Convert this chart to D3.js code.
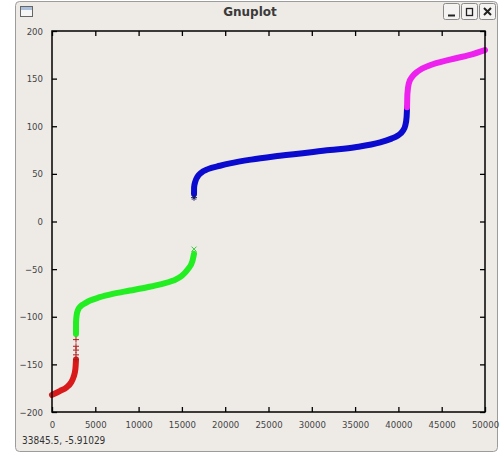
<!DOCTYPE html>
<html>
<head>
<meta charset="utf-8">
<script src="https://cdn.jsdelivr.net/npm/d3@7"></script>
<style>
  body { margin: 0; background: #fff; }
  text { font-family: "DejaVu Sans Condensed", "DejaVu Sans", sans-serif; }
</style>
</head>
<body>
<script>
const width = 504;
const height = 454;

// values, [x, y]
const red = [[0, -182], [900, -178], [1700, -174], [2200, -169], [2500, -163], [2700, -155], [2755, -148], [2770, -145]];
const redPlus = [-124, -131, -135, -140, -145];
const green = [[2770, -118], [2775, -106], [2850, -98], [3000, -93], [3300, -89], [3800, -86], [4400, -83], [5500, -79.5],
  [7000, -76], [9000, -72.5], [11000, -69], [12500, -66], [14000, -62], [15000, -57], [15700, -50], [16200, -42], [16400, -34]];
const greenX = [[16400, -29]];
const blue = [[16400, 29], [16410, 36], [16550, 42], [16800, 47], [17200, 51], [18000, 55], [19400, 58.5], [20550, 61],
  [23000, 65], [26300, 69], [32100, 75], [35000, 78], [37900, 83], [39200, 87], [39900, 90], [40500, 95],
  [40800, 101], [40950, 110], [41000, 120]];
const blueStar = [[16400, 25]];
const magenta = [[41000, 120], [41040, 134], [41200, 145], [41600, 152], [42300, 158], [43650, 164],
  [45960, 170], [48270, 175], [50000, 180]];

const xTicks = [0, 5000, 10000, 15000, 20000, 25000, 30000, 35000, 40000, 45000, 50000];
const yTicks = [-200, -150, -100, -50, 0, 50, 100, 150, 200];

const svg = d3.select('body')
  .append('svg')
  .attr('width', width)
  .attr('height', height);

// window frame
svg.append('rect')
  .attr('x', 15.5).attr('y', 1.5)
  .attr('width', 482).attr('height', 450)
  .attr('rx', 4)
  .attr('fill', '#eeebe7')
  .attr('stroke', '#9c9c9c');

// title bar
svg.append('text')
  .attr('x', 250).attr('y', 16)
  .attr('text-anchor', 'middle')
  .attr('font-size', 12)
  .attr('font-weight', 'bold')
  .attr('fill', '#3a3a3a')
  .style('font-family', 'DejaVu Sans')
  .text('Gnuplot');

svg.append('rect')
  .attr('x', 20.5).attr('y', 6.5).attr('width', 12).attr('height', 10)
  .attr('fill', '#f6f6f6').attr('stroke', '#666');
svg.append('rect')
  .attr('x', 21).attr('y', 7).attr('width', 11).attr('height', 3)
  .attr('fill', '#a8c0dc');

const buttons = [443, 461, 479];
buttons.forEach(bx => {
  svg.append('rect')
    .attr('x', bx + 0.5).attr('y', 3.5).attr('width', 16).attr('height', 16)
    .attr('rx', 2)
    .attr('fill', '#f4f3f1').attr('stroke', '#8a8a8a');
});
svg.append('line').attr('x1', 448).attr('x2', 455).attr('y1', 15.5).attr('y2', 15.5)
  .attr('stroke', '#222').attr('stroke-width', 2);
svg.append('rect').attr('x', 466.5).attr('y', 8.5).attr('width', 6).attr('height', 7)
  .attr('fill', 'none').attr('stroke', '#222').attr('stroke-width', 1.3);
svg.append('path').attr('d', 'M484,8L491,15M491,8L484,15')
  .attr('stroke', '#222').attr('stroke-width', 2);

// plot
const x = d3.scaleLinear().domain([0, 50000]).range([52, 485]);
const y = d3.scaleLinear().domain([-200, 200]).range([412, 31]);

const line = d3.line()
  .x(d => x(d[0]))
  .y(d => y(d[1]))
  .curve(d3.curveMonotoneX);

const series = [
  { data: red, color: '#d81a1a' },
  { data: green, color: '#22ee22' },
  { data: blue, color: '#0b0bcf' },
  { data: magenta, color: '#ee22ee' }
];

svg.selectAll('path.series')
  .data(series)
  .enter()
  .append('path')
  .attr('class', 'series')
  .attr('d', d => line(d.data))
  .attr('fill', 'none')
  .attr('stroke', d => d.color)
  .attr('stroke-width', 6)
  .attr('stroke-linecap', 'round')
  .attr('stroke-linejoin', 'round');

// sparse point markers at the jumps
svg.selectAll('path.plus')
  .data(redPlus)
  .enter()
  .append('path')
  .attr('class', 'plus')
  .attr('d', d => `M${x(2770) - 3},${y(d)}h6M${x(2770)},${y(d) - 3}v6`)
  .attr('stroke', '#b01a1a')
  .attr('stroke-width', 1);

svg.selectAll('path.xmark')
  .data(greenX)
  .enter()
  .append('path')
  .attr('class', 'xmark')
  .attr('d', d => `M${x(d[0]) - 2.5},${y(d[1]) - 2.5}l5,5M${x(d[0]) + 2.5},${y(d[1]) - 2.5}l-5,5`)
  .attr('stroke', '#33cc33')
  .attr('stroke-width', 1);

svg.selectAll('path.star')
  .data(blueStar)
  .enter()
  .append('path')
  .attr('class', 'star')
  .attr('d', d => {
    const cx = x(d[0]), cy = y(d[1]);
    return `M${cx - 3},${cy}h6M${cx},${cy - 3}v6M${cx - 2},${cy - 2}l4,4M${cx + 2},${cy - 2}l-4,4`;
  })
  .attr('stroke', '#101060')
  .attr('stroke-width', 1);

// axes with mirrored inward ticks
const axisStyle = g => {
  g.select('.domain').remove();
  g.selectAll('.tick line').attr('stroke', '#000').attr('stroke-width', 1.3);
  g.selectAll('.tick text').attr('fill', '#444').attr('font-size', 9.5)
    .style('font-family', '"DejaVu Sans Condensed", "DejaVu Sans", sans-serif');
};

svg.append('g')
  .attr('transform', 'translate(0,412)')
  .call(d3.axisBottom(x).tickValues(xTicks).tickSizeInner(-5).tickSizeOuter(0).tickPadding(9).tickFormat(d3.format('d')))
  .call(axisStyle);

svg.append('g')
  .attr('transform', 'translate(0,31)')
  .call(d3.axisTop(x).tickValues(xTicks).tickSizeInner(-5).tickSizeOuter(0).tickFormat(''))
  .call(axisStyle);

svg.append('g')
  .attr('transform', 'translate(52,0)')
  .call(d3.axisLeft(y).tickValues(yTicks).tickSizeInner(-5).tickSizeOuter(0).tickPadding(9).tickFormat(d3.format('d')))
  .call(axisStyle);

svg.append('g')
  .attr('transform', 'translate(485,0)')
  .call(d3.axisRight(y).tickValues(yTicks).tickSizeInner(-5).tickSizeOuter(0).tickFormat(''))
  .call(axisStyle);

svg.append('rect')
  .attr('x', 52).attr('y', 31)
  .attr('width', 433).attr('height', 381)
  .attr('fill', 'none')
  .attr('stroke', '#000')
  .attr('stroke-width', 1.5);

// status line
svg.append('text')
  .attr('x', 22).attr('y', 444)
  .attr('font-size', 10)
  .attr('fill', '#333')
  .text('33845.5, -5.91029');
</script>
</body>
</html>
